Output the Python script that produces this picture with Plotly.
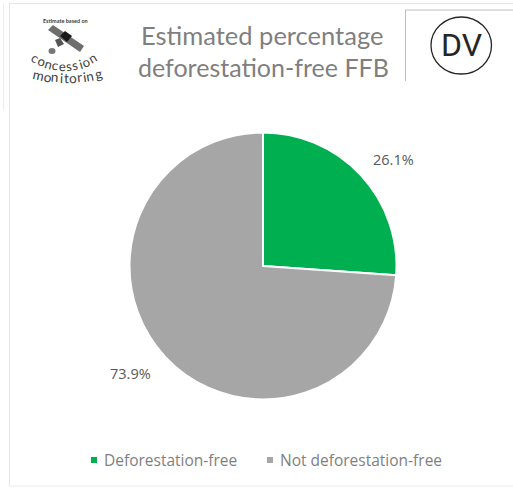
import math
import plotly.graph_objects as go

categories = ["Deforestation-free", "Not deforestation-free"]
values = [26.1, 73.9]
colors = ["#00b050", "#a6a6a6"]
title_lines = ["Estimated percentage", "deforestation-free FFB"]
W, H = 513, 489
FONT = "Lato"

def px(x): return x / W
def py(y): return 1 - y / H

fig = go.Figure(go.Pie(
    labels=categories, values=values, sort=False, direction="clockwise", rotation=0,
    marker=dict(colors=colors, line=dict(color="#ffffff", width=2)),
    textinfo="none", automargin=False, hoverinfo="label+percent", showlegend=False,
    domain=dict(x=[px(129.5), px(396.5)], y=[py(399.5), py(132.5)]),
))

annotations = []
def text(x, y, s, size, color="#7f7f7f", angle=0, family=FONT, bold=False, anchor="center"):
    annotations.append(dict(x=px(x), y=py(y), xref="paper", yref="paper", text=f"<b>{s}</b>" if bold else s,
                            showarrow=False, xanchor=anchor, yanchor="middle", textangle=angle,
                            borderpad=0, borderwidth=0,
                            font=dict(family=family, size=size, color=color)))

text(262, 35, title_lines[0], 25.5)
text(263, 67, title_lines[1], 25)
text(461, 45, "DV", 32, "#262626", family="Roboto")
text(65, 20.5, "Estimate based on", 5.5, "#404040", bold=True)

# data labels and legend text come from the data arrays
text(393.5, 159, f"{values[0]:.1f}%", 14.5, "#595959", family="Open Sans")
text(130.5, 373, f"{values[1]:.1f}%", 14.5, "#595959", family="Open Sans")
text(104, 460, categories[0], 15.5, "#7f7f7f", anchor="left", family="Open Sans")
text(280, 460, categories[1], 15.5, "#7f7f7f", anchor="left", family="Open Sans")

NARROW = {"i": 0.55, "t": 0.7, "r": 0.75, "m": 1.55, "s": 0.85, "c": 0.9}
def smile(word, cx, low_y, r, half_angle, size):
    weights = [NARROW.get(c, 1.0) for c in word]
    total = sum(weights)
    run = 0.0
    for ch, w in zip(word, weights):
        a = -half_angle + 2 * half_angle * (run + w / 2) / total
        run += w
        t = math.radians(a)
        text(cx + r * math.sin(t), low_y - r * (1 - math.cos(t)), ch, size, "#404040", angle=-a)

smile("concession", 64, 66, 56, 34, 13)
smile("monitoring", 67, 78, 130, 15.5, 13.5)

def line(x0, y0, x1, y1, color, width=1):
    return dict(type="line", xref="paper", yref="paper", x0=px(x0), x1=px(x1), y0=py(y0), y1=py(y1),
                line=dict(color=color, width=width))

def poly(points, color):
    path = "M " + " L ".join(f"{px(x)} {py(y)}" for x, y in points) + " Z"
    return dict(type="path", xref="paper", yref="paper", line=dict(width=0), fillcolor=color, path=path)

def square(x, y, s, color):
    return dict(type="rect", xref="paper", yref="paper", x0=px(x - s / 2), x1=px(x + s / 2),
                y0=py(y + s / 2), y1=py(y - s / 2), line=dict(width=0), fillcolor=color)

shapes = [
    dict(type="circle", xref="paper", yref="paper", x0=px(431), x1=px(491.5), y0=py(74), y1=py(17),
         line=dict(color="#262626", width=1.3)),
    line(9.5, 3, 9.5, 486, "#e6e6e6"),
    line(3.5, 3, 3.5, 110, "#ececec"),
    line(9.5, 3.5, 513, 3.5, "#e6e6e6"),
    line(9.5, 486, 513, 486, "#ececec"),
    line(405.5, 10, 405.5, 81, "#bfbfbf"),
    line(405, 10, 513, 10, "#bfbfbf"),
    poly([(48, 30), (53, 25), (84, 46), (80, 52)], "#6e6e6e"),
    poly([(60, 36), (65, 31), (72, 36), (67, 42)], "#1a1a1a"),
    poly([(55, 40), (60, 38), (64, 44), (58, 47)], "#555555"),
    dict(type="circle", xref="paper", yref="paper", line=dict(width=0), fillcolor="#777777",
         x0=px(48.5), x1=px(55.5), y0=py(54), y1=py(48)),
    square(94, 460, 6, colors[0]),
    square(270, 460, 6, colors[1]),
]

fig.update_layout(
    width=W, height=H, margin=dict(l=0, r=0, t=0, b=0), paper_bgcolor="#ffffff",
    font=dict(family=FONT, color="#595959", size=13),
    annotations=annotations, shapes=shapes,
)
fig.write_html("out.html", post_script="document.body.style.margin='0';", config={"displayModeBar": False})
